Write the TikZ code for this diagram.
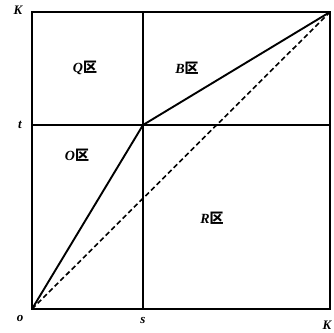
\documentclass[tikz,border=0pt]{standalone}
\usepackage{fontspec}
\setmainfont{Liberation Serif}
\newfontfamily\cjk{Noto Sans CJK SC}[BoldFont=Noto Sans CJK SC Black]
\begin{document}
\begin{tikzpicture}[x=1pt,y=1pt,
  lbl/.style={font=\fontsize{13}{15}\selectfont\bfseries\itshape, inner sep=0pt},
  zone/.style={font=\fontsize{14}{16}\selectfont\bfseries\itshape, inner sep=0pt},
  edge/.style={line width=1.9pt},
  dashedge/.style={line width=1.6pt, dash pattern=on 5pt off 3pt}]
\useasboundingbox (0,0) rectangle (334,332);
\coordinate (o) at (32,23);
\coordinate (kr) at (330,23);
\coordinate (kt) at (32,320);
\coordinate (tr) at (330,320);
\coordinate (sb) at (143,23);
\coordinate (st) at (143,320);
\coordinate (tl) at (32,207);
\coordinate (trr) at (330,207);
\coordinate (m) at (143,207);
\draw[edge] (o) rectangle (tr);
\draw[edge] (sb) -- (st);
\draw[edge] (tl) -- (trr);
\draw[edge] (o) -- (m) -- (tr);
\draw[dashedge] (o) -- (tr);
\node[lbl] (lK) at (18,322) {K};
\node[lbl] (lt) at (20,207) {t};
\node[lbl] (lo) at (20,14) {o};
\node[lbl] (ls) at (143,12) {s};
\node[lbl] (lK2) at (327,7) {K};
\node[zone] (Q) at (85,264) {Q{\cjk\bfseries 区}};
\node[zone] (B) at (187,264) {B{\cjk\bfseries 区}};
\node[zone] (O) at (77,177) {O{\cjk\bfseries 区}};
\node[zone] (R) at (212,114) {R{\cjk\bfseries 区}};
\end{tikzpicture}
\end{document}
